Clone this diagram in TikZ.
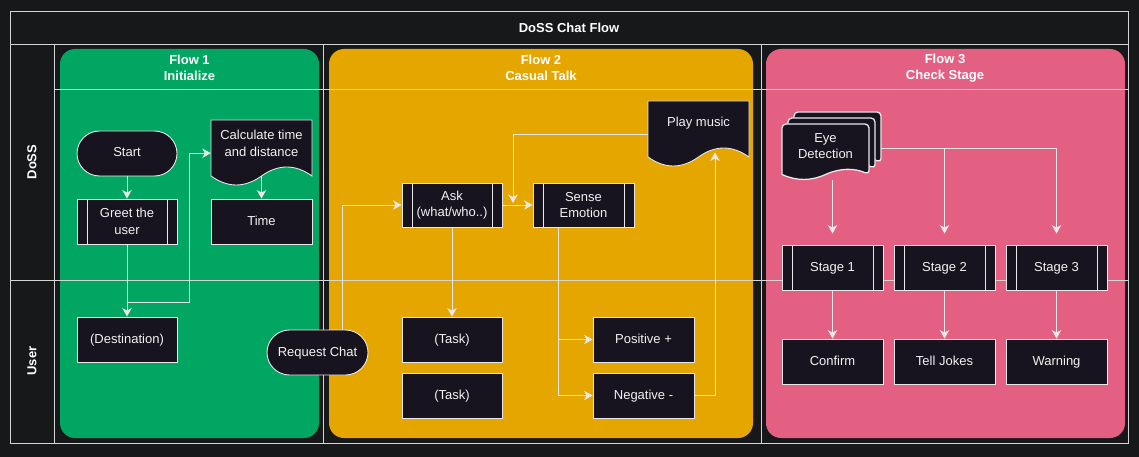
\documentclass[tikz,border=0pt]{standalone}
\usepackage{fontspec}
\setmainfont{Liberation Sans}
\usetikzlibrary{arrows.meta,calc}
\definecolor{bg}{HTML}{17181A}
\definecolor{nodefill}{HTML}{18141F}
\definecolor{linec}{HTML}{E8E8E8}
\definecolor{gridc}{HTML}{D4D4D4}
\definecolor{pgreen}{HTML}{00A661}
\definecolor{porange}{HTML}{E5A600}
\definecolor{ppink}{HTML}{E46083}
\definecolor{txtc}{HTML}{F2F2F2}
\newcommand\docshape[6][]{%
  \pgfmathsetmacro\dA{#2}%
  \pgfmathsetmacro\dB{#2+#4}%
  \pgfmathsetmacro\dT{#3}%
  \pgfmathsetmacro\dE{#3+#5-0.5*#6}%
  \pgfmathsetmacro\dU{#3+#5-1.1*#6}%
  \pgfmathsetmacro\dL{#3+#5+0.1*#6}%
  \pgfmathsetmacro\dXa{#2+5*#4/6}%
  \pgfmathsetmacro\dXb{#2+2*#4/3}%
  \pgfmathsetmacro\dXm{#2+#4/2}%
  \pgfmathsetmacro\dXc{#2+#4/3}%
  \pgfmathsetmacro\dXd{#2+#4/6}%
  \path[docst,#1] (\dA,\dE) -- (\dA,\dT) -- (\dB,\dT) -- (\dB,\dE) [sharp corners] .. controls (\dXa,\dU) and (\dXb,\dU) .. (\dXm,\dE) .. controls (\dXc,\dL) and (\dXd,\dL) .. (\dA,\dE) -- cycle;%
}
\tikzset{
  basefont/.style={font=\fontsize{13}{16.5}\selectfont},
  box/.style={draw=linec, fill=nodefill, line width=0.9pt, minimum width=101pt, minimum height=45pt, inner sep=0pt, align=center, text=txtc, basefont},
  oneline/.style={text height=9.6pt, text depth=2.6pt},
  procbox/.style={box, path picture={\draw[linec, line width=0.9pt]
      ([xshift=10pt]path picture bounding box.north west) -- ([xshift=10pt]path picture bounding box.south west)
      ([xshift=-10pt]path picture bounding box.north east) -- ([xshift=-10pt]path picture bounding box.south east);}},
  termbox/.style={box, rounded corners=22.5pt},
  docst/.style={draw=linec, fill=nodefill, line width=0.9pt},
  doctext/.style={inner sep=0pt, align=center, text=txtc, basefont, anchor=north},
  hdr/.style={align=center, text=white, font=\bfseries\fontsize{13}{15.5}\selectfont},
  lane/.style={text=white, font=\bfseries\fontsize{13}{15.5}\selectfont, rotate=90},
  gridline/.style={draw=gridc, line width=0.9pt},
  panel/.style={rounded corners=15pt},
  arr/.style={draw=linec, line width=0.9pt, -{Stealth[length=8.5pt,width=9.5pt,inset=2.5pt]}},
}
\begin{document}
\begin{tikzpicture}[x=1pt,y=-1pt]
\useasboundingbox (0,0) rectangle (1139,457);
\fill[bg] (0,0) rectangle (1139,457);
% panels
\fill[pgreen, panel] (60,49) rectangle (319,438);
\fill[porange, panel] (329,49) rectangle (753,438);
\fill[ppink, panel] (766,49) rectangle (1125,438);
% grid
\draw[gridline] (10,11) rectangle (1128,443);
\draw[gridline] (10,44) -- (1128,44);
\draw[gridline] (54,44) -- (54,443);
\draw[gridline] (54,89) -- (1128,89);
\draw[gridline] (10,280) -- (1128,280);
\draw[gridline] (323,44) -- (323,443);
\draw[gridline] (761,44) -- (761,443);
% titles
\node[hdr] (title) at (569,28) {DoSS Chat Flow};
\node[lane] (lanedoss) at (32,162) {DoSS};
\node[lane] (laneuser) at (32,361) {User};
\node[hdr] (h1) at (189.5,68) {Flow 1\\Initialize};
\node[hdr] (h2) at (541,68) {Flow 2\\Casual Talk};
\node[hdr] (h3) at (945,68) {Flow 3\\Check Stage};
% Flow 1
\node[termbox, oneline, minimum width=100pt] (start) at (127,153.5) {Start};
\node[procbox, minimum width=100pt] (greet) at (127,221.5) {Greet the\\user};
\node[box, oneline, minimum width=100pt] (dest) at (127,339.5) {(Destination)};
\docshape{211}{120}{101}{66}{20}
\node[doctext, minimum width=101pt, minimum height=46pt] (calc) at (261.5,120) {Calculate time\\and distance};
\node[box, oneline] (time) at (261.5,221.5) {Time};
\node[termbox, oneline] (req) at (317.5,352.5) {Request Chat};
% Flow 2
\node[procbox, minimum width=100pt, minimum height=44pt] (ask) at (452,205) {Ask\\(what/who..)};
\node[procbox, minimum height=44pt] (sense) at (583.5,205) {Sense\\Emotion};
\docshape{648}{101}{101}{66}{20}
\node[doctext, minimum width=101pt, minimum height=44pt] (play) at (698.5,101) {Play music};
\node[box, oneline, minimum width=100pt] (task1) at (452,339.5) {(Task)};
\node[box, oneline, minimum width=100pt] (task2) at (452,395.5) {(Task)};
\node[box, oneline] (pos) at (643.5,339.5) {Positive +};
\node[box, oneline] (neg) at (643.5,395.5) {Negative -};
% Flow 3
\docshape[rounded corners=4pt, line width=1.3pt]{794}{112}{87}{56}{11}
\docshape[rounded corners=4pt, line width=1.3pt]{788}{118}{87}{56}{11}
\docshape[rounded corners=4pt, line width=1.3pt]{782}{124}{87}{56}{11}
\node[doctext, minimum width=87pt, minimum height=42pt] (eye) at (825.5,125) {Eye\\Detection};
\node[procbox, oneline] (st1) at (832.5,267.5) {Stage 1};
\node[procbox, oneline] (st2) at (944.5,267.5) {Stage 2};
\node[procbox, oneline] (st3) at (1056.5,267.5) {Stage 3};
\node[box, oneline] (conf) at (832.5,361.5) {Confirm};
\node[box, oneline] (jokes) at (944.5,361.5) {Tell Jokes};
\node[box, oneline] (warn) at (1056.5,361.5) {Warning};
% connectors flow 1
\coordinate (g1) at (189,302);
\draw[arr] (start) -- (greet);
\draw[arr] (greet.south) -- (dest.north);
\draw[arr] (greet.south) |- (g1) |- ([yshift=-10pt]calc.west);
\draw[arr] ([yshift=-10pt]calc.south) -- (time.north);
% connectors flow 2
\coordinate (pm) at (513,203);
\draw[arr] ([xshift=24.5pt]req.north) |- (ask.west);
\draw[arr] (ask) -- (sense);
\draw[arr] ([yshift=-11pt]play.west) -| (pm);
\draw[arr] (ask.south) -- (task1.north);
\draw[arr] ([xshift=-25.5pt]sense.south) |- (pos.west);
\draw[arr] ([xshift=-25.5pt]sense.south) |- (neg.west);
\draw[arr] (neg.east) -| ([xshift=16.5pt,yshift=-7pt]play.south);
% connectors flow 3
\draw[arr, shorten >=11pt] ([yshift=-13pt]eye.south -| st1.north) -- (st1.north);
\draw[arr, shorten >=11pt] ([xshift=12pt,yshift=-2pt]eye.east) -| (st2.north);
\draw[arr, shorten >=11pt] ([xshift=12pt,yshift=-2pt]eye.east) -| (st3.north);
\draw[arr] (st1) -- (conf);
\draw[arr] (st2) -- (jokes);
\draw[arr] (st3) -- (warn);
\end{tikzpicture}
\end{document}
